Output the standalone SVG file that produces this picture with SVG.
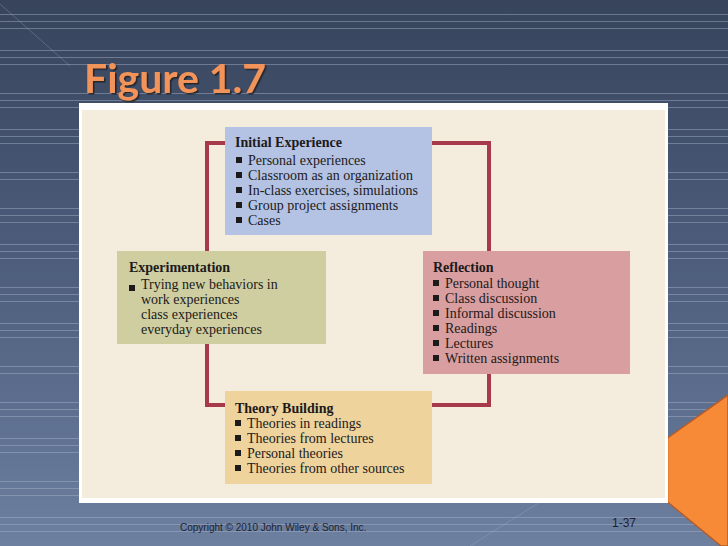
<svg xmlns="http://www.w3.org/2000/svg" xmlns:xlink="http://www.w3.org/1999/xlink" width="728" height="546" viewBox="0 0 728 546">
<defs>
<linearGradient id="bg" x1="0" y1="0" x2="0" y2="1">
<stop offset="0" stop-color="#37445c"/>
<stop offset="0.5" stop-color="#4e5e7d"/>
<stop offset="1" stop-color="#6d80a0"/>
</linearGradient>
<filter id="sh" x="-10%" y="-20%" width="130%" height="150%">
<feDropShadow dx="1.5" dy="1.5" stdDeviation="0.6" flood-color="#1a1a1a" flood-opacity="0.85"/>
</filter>
<rect id="bul" width="6" height="6" fill="#1c1a1a"/>
<style>
.ln{stroke:#a9b6cc;stroke-opacity:0.45;stroke-width:1}
.t{font-family:"Liberation Serif","Times New Roman",serif;font-size:14px;fill:#1c1a1a}
.h{font-weight:bold}
.loop{fill:none;stroke:#a63a4a;stroke-width:4}
.ft{font-family:"Liberation Sans",Arial,sans-serif;fill:#1e2230}
</style>
</defs>
<rect x="0" y="0" width="728" height="546" fill="url(#bg)"/>
<g id="stripes">
<path class="ln" d="M0 14.5H728M0 21.5H728M0 28.5H728M0 50.5H728M0 57.5H728M0 64.5H728M0 93.5H728M0 100.5H728M0 107.5H728M0 129.5H728M0 136.5H728M0 143.5H728M0 172.5H728M0 179.5H728M0 208.5H728M0 215.5H728M0 222.5H728M0 244.5H728M0 251.5H728M0 258.5H728M0 287.5H728M0 294.5H728M0 301.5H728M0 323.5H728M0 330.5H728M0 337.5H728M0 366.5H728M0 373.5H728M0 402.5H728M0 409.5H728M0 416.5H728M0 438.5H728M0 445.5H728M0 452.5H728M0 481.5H728M0 488.5H728M0 495.5H728M0 517.5H728M0 524.5H728M0 531.5H728"/>
<path d="M0 4L70 66M470 546L540 502" stroke="#a9b6cc" stroke-opacity="0.3" stroke-width="1" fill="none"/>
</g>
<text x="84" y="93" font-family="Lato,'DejaVu Sans',sans-serif" font-weight="bold" font-size="40" fill="#f2935a" textLength="182" lengthAdjust="spacingAndGlyphs" filter="url(#sh)">Figure 1.7</text>
<polygon points="667.5,438 728,395 728,546 721,546 667.5,502" fill="#f78a37" stroke="#b35c2a" stroke-width="1.5"/>
<rect x="79" y="103" width="589" height="400" fill="#ffffff"/>
<rect x="82" y="110" width="583" height="388" fill="#f4ecdc"/>
<g id="connectors">
<path class="loop" d="M207 143H489V405H207Z"/>
</g>
<g id="initial-experience">
<rect x="225" y="127" width="207" height="108" fill="#b4c3e4"/>
<text class="t h" x="235" y="147">Initial Experience</text>
<use xlink:href="#bul" x="236" y="157"/><text class="t" x="248" y="165">Personal experiences</text>
<use xlink:href="#bul" x="236" y="172"/><text class="t" x="248" y="180">Classroom as an organization</text>
<use xlink:href="#bul" x="236" y="187"/><text class="t" x="248" y="195">In-class exercises, simulations</text>
<use xlink:href="#bul" x="236" y="202"/><text class="t" x="248" y="210">Group project assignments</text>
<use xlink:href="#bul" x="236" y="217"/><text class="t" x="248" y="225">Cases</text>
</g>
<g id="experimentation">
<rect x="117" y="251" width="209" height="93" fill="#cfcea1"/>
<text class="t h" x="129" y="272">Experimentation</text>
<use xlink:href="#bul" x="129" y="285"/><text class="t" x="141" y="289">Trying new behaviors in</text>
<text class="t" x="141" y="304">work experiences</text>
<text class="t" x="141" y="319">class experiences</text>
<text class="t" x="141" y="334">everyday experiences</text>
</g>
<g id="reflection">
<rect x="423" y="251" width="207" height="123" fill="#d99e9f"/>
<text class="t h" x="433" y="272">Reflection</text>
<use xlink:href="#bul" x="433" y="280"/><text class="t" x="445" y="288">Personal thought</text>
<use xlink:href="#bul" x="433" y="295"/><text class="t" x="445" y="303">Class discussion</text>
<use xlink:href="#bul" x="433" y="310"/><text class="t" x="445" y="318">Informal discussion</text>
<use xlink:href="#bul" x="433" y="325"/><text class="t" x="445" y="333">Readings</text>
<use xlink:href="#bul" x="433" y="340"/><text class="t" x="445" y="348">Lectures</text>
<use xlink:href="#bul" x="433" y="355"/><text class="t" x="445" y="363">Written assignments</text>
</g>
<g id="theory-building">
<rect x="225" y="391" width="207" height="93" fill="#efd39d"/>
<text class="t h" x="235" y="413">Theory Building</text>
<use xlink:href="#bul" x="235" y="420"/><text class="t" x="247" y="428">Theories in readings</text>
<use xlink:href="#bul" x="235" y="435"/><text class="t" x="247" y="443">Theories from lectures</text>
<use xlink:href="#bul" x="235" y="450"/><text class="t" x="247" y="458">Personal theories</text>
<use xlink:href="#bul" x="235" y="465"/><text class="t" x="247" y="473">Theories from other sources</text>
</g>
<text class="ft" x="180" y="531" font-size="10">Copyright © 2010 John Wiley &amp; Sons, Inc.</text>
<text class="ft" x="612" y="527" font-size="12">1-37</text>
</svg>
